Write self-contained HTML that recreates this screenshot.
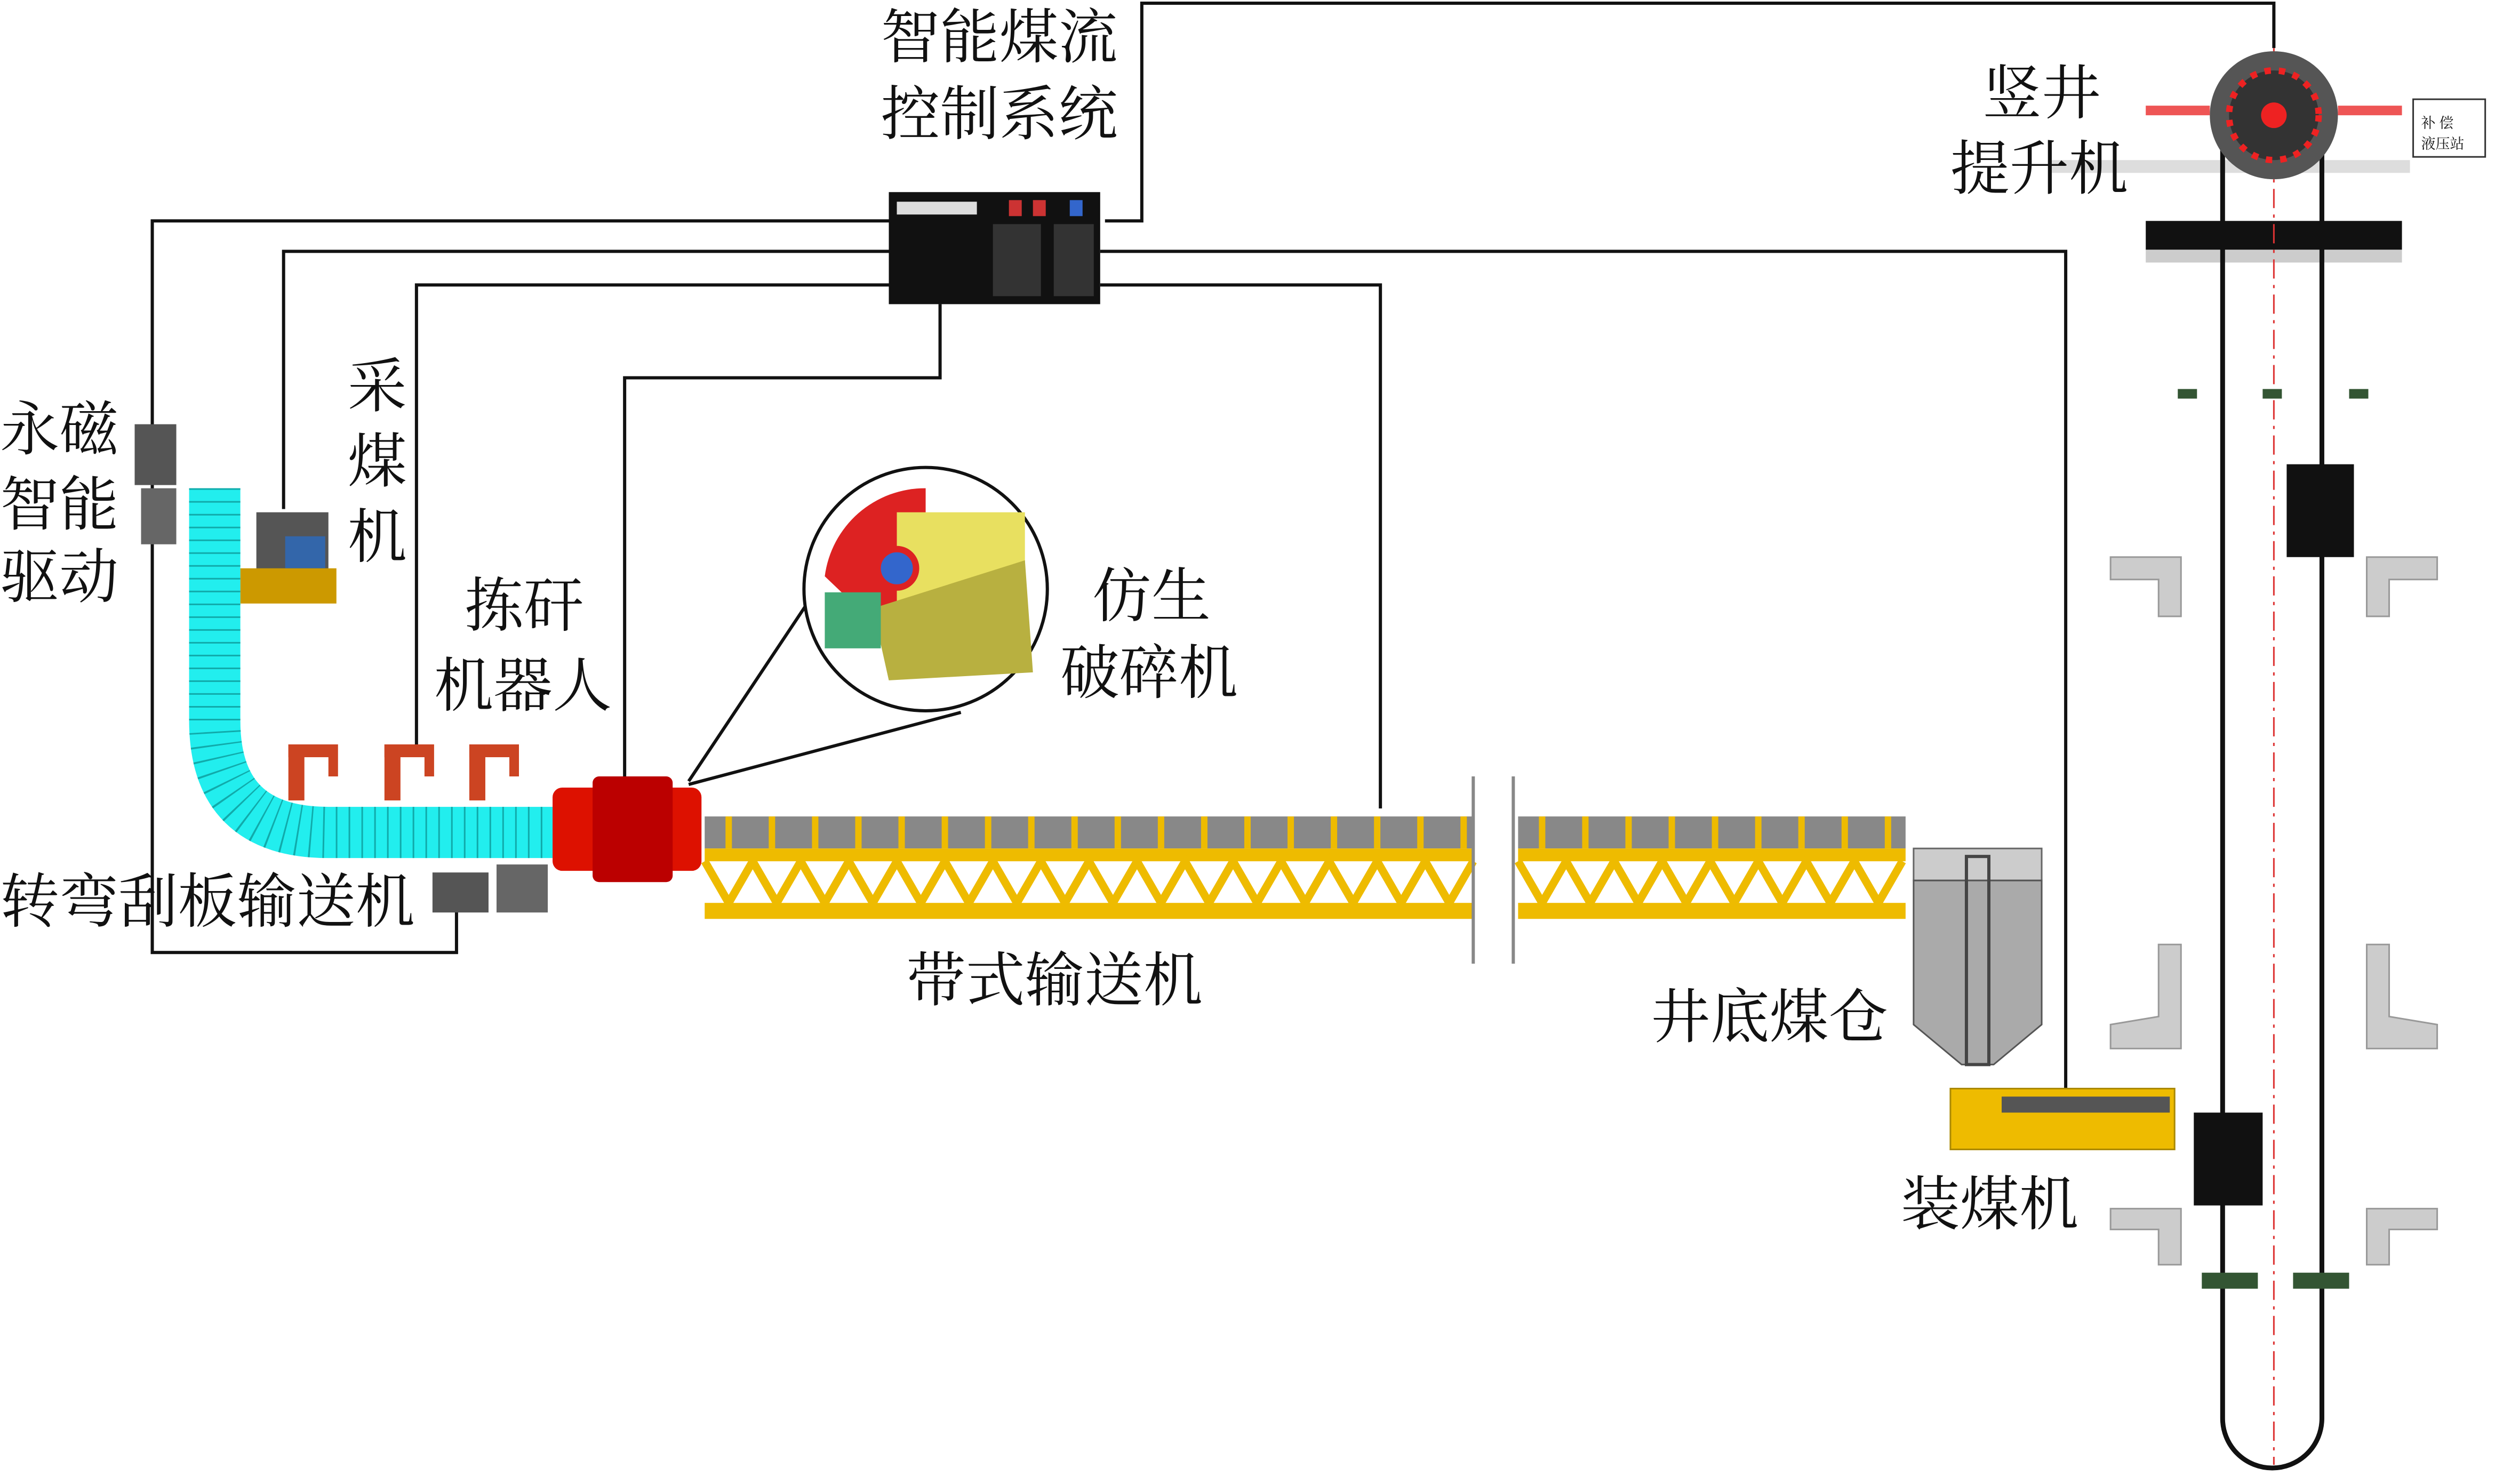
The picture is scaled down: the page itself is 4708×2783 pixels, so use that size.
<!DOCTYPE html>
<html><head><meta charset="utf-8"><style>
html,body{margin:0;padding:0;background:#fff}
svg{display:block}
text{font-family:"Liberation Serif","Noto Serif CJK SC","Noto Sans CJK SC",serif;font-size:37px;fill:#111}
</style></head><body>
<svg width="4708" height="2783" viewBox="0 0 1568 927" xmlns="http://www.w3.org/2000/svg">
<rect width="1568" height="927" fill="#fff"/>
<g fill="none" stroke="#111" stroke-width="2">
<polyline points="690,138 713,138 713,2 1420,2 1420,30"/>
<polyline points="555,138 95,138 95,595 285,595 285,565"/>
<polyline points="555,157 177,157 177,318"/>
<polyline points="555,178 260,178 260,465"/>
<polyline points="587,190 587,236 390,236 390,485"/>
<polyline points="687,178 862,178 862,505"/>
<polyline points="687,157 1290,157 1290,685"/>
<line x1="430" y1="488" x2="512" y2="365"/>
<line x1="430" y1="490" x2="600" y2="445"/>
</g>
<rect x="555" y="120" width="132" height="70" fill="#111"/>
<rect x="560" y="126" width="50" height="8" fill="#ddd"/>
<rect x="620" y="140" width="30" height="45" fill="#333"/>
<rect x="658" y="140" width="25" height="45" fill="#333"/>
<rect x="630" y="125" width="8" height="10" fill="#c33"/><rect x="645" y="125" width="8" height="10" fill="#c33"/><rect x="668" y="125" width="8" height="10" fill="#36c"/>
<circle cx="578" cy="368" r="76" fill="#fff" stroke="#111" stroke-width="2"/>
<path d="M515,360 A63,63 0 0 1 578,305 L578,420 Z" fill="#d22"/>
<rect x="560" y="320" width="80" height="100" fill="#e8e060"/>
<circle cx="560" cy="355" r="12" fill="#36c" stroke="#d22" stroke-width="4"/>
<polygon points="545,380 640,350 645,420 555,425" fill="#b8b040"/>
<rect x="515" y="370" width="35" height="35" fill="#4a7"/>
<rect x="84" y="265" width="26" height="38" fill="#555"/>
<rect x="88" y="305" width="22" height="35" fill="#666"/>
<rect x="160" y="320" width="45" height="45" fill="#555"/>
<rect x="178" y="335" width="25" height="20" fill="#36a"/>
<rect x="150" y="355" width="60" height="22" fill="#c90"/>
<path d="M134,305 L134,450 Q134,520 205,520 L345,520" fill="none" stroke="#2ee" stroke-width="32"/>
<path d="M134,305 L134,450 Q134,520 205,520 L345,520" fill="none" stroke="#1aa" stroke-width="32" stroke-dasharray="1 7"/>
<rect x="270" y="545" width="35" height="25" fill="#555"/>
<rect x="310" y="540" width="32" height="30" fill="#666"/>
<g fill="#c42">
<rect x="180" y="465" width="10" height="35"/><rect x="180" y="465" width="30" height="8"/><rect x="205" y="465" width="6" height="20"/>
<rect x="240" y="465" width="10" height="35"/><rect x="240" y="465" width="30" height="8"/><rect x="265" y="465" width="6" height="20"/>
<rect x="293" y="465" width="10" height="35"/><rect x="293" y="465" width="30" height="8"/><rect x="318" y="465" width="6" height="20"/>
</g>
<rect x="345" y="492" width="93" height="52" fill="#d10" rx="6"/>
<rect x="370" y="485" width="50" height="66" fill="#b00" rx="4"/>
<g>
<rect x="440" y="510" width="480" height="20" fill="#888"/>
<rect x="948" y="510" width="242" height="20" fill="#888"/>
<path d="M455,510 v20 M482,510 v20 M509,510 v20 M536,510 v20 M563,510 v20 M590,510 v20 M617,510 v20 M644,510 v20 M671,510 v20 M698,510 v20 M725,510 v20 M752,510 v20 M779,510 v20 M806,510 v20 M833,510 v20 M860,510 v20 M887,510 v20 M914,510 v20 M963,510 v20 M990,510 v20 M1017,510 v20 M1044,510 v20 M1071,510 v20 M1098,510 v20 M1125,510 v20 M1152,510 v20 M1179,510 v20" stroke="#eb0" stroke-width="4"/>
<rect x="440" y="530" width="480" height="8" fill="#eb0"/>
<rect x="948" y="530" width="242" height="8" fill="#eb0"/>
<rect x="440" y="564" width="480" height="10" fill="#eb0"/>
<rect x="948" y="564" width="242" height="10" fill="#eb0"/>
<path d="M440,538 L455,564 L470,538 L485,564 L500,538 L515,564 L530,538 L545,564 L560,538 L575,564 L590,538 L605,564 L620,538 L635,564 L650,538 L665,564 L680,538 L695,564 L710,538 L725,564 L740,538 L755,564 L770,538 L785,564 L800,538 L815,564 L830,538 L845,564 L860,538 L875,564 L890,538 L905,564 L920,538" fill="none" stroke="#eb0" stroke-width="5"/>
<path d="M948,538 L963,564 L978,538 L993,564 L1008,538 L1023,564 L1038,538 L1053,564 L1068,538 L1083,564 L1098,538 L1113,564 L1128,538 L1143,564 L1158,538 L1173,564 L1188,538" fill="none" stroke="#eb0" stroke-width="5"/>
<line x1="920" y1="485" x2="920" y2="602" stroke="#888" stroke-width="2"/>
<line x1="945" y1="485" x2="945" y2="602" stroke="#888" stroke-width="2"/>
</g>
<rect x="1195" y="530" width="80" height="20" fill="#ccc" stroke="#666"/>
<path d="M1195,550 L1275,550 L1275,640 L1245,665 L1225,665 L1195,640 Z" fill="#aaa" stroke="#555"/>
<rect x="1228" y="535" width="14" height="130" fill="none" stroke="#444" stroke-width="2"/>
<rect x="1218" y="680" width="140" height="38" fill="#eb0" stroke="#a80"/>
<rect x="1250" y="685" width="105" height="10" fill="#555"/>
<rect x="1280" y="100" width="225" height="8" fill="#ddd"/>
<rect x="1340" y="138" width="160" height="18" fill="#111"/>
<rect x="1340" y="156" width="160" height="8" fill="#ccc"/>
<rect x="1388" y="62" width="62" height="855" rx="31" fill="none" stroke="#111" stroke-width="3"/>
<line x1="1420" y1="30" x2="1420" y2="915" stroke="#d33" stroke-width="1" stroke-dasharray="12 4 2 4"/>
<circle cx="1420" cy="72" r="40" fill="#555"/>
<circle cx="1420" cy="72" r="28" fill="#333" stroke="#e22" stroke-width="4" stroke-dasharray="4 5"/>
<circle cx="1420" cy="72" r="8" fill="#e22"/>
<rect x="1340" y="66" width="40" height="6" fill="#e55"/><rect x="1460" y="66" width="40" height="6" fill="#e55"/>
<rect x="1507" y="62" width="45" height="36" fill="#fff" stroke="#333"/>
<text x="1512" y="80" style="font-size:9px">补 偿</text><text x="1512" y="93" style="font-size:9px">液压站</text>
<rect x="1428" y="290" width="42" height="58" fill="#111"/>
<rect x="1370" y="695" width="43" height="58" fill="#111"/>
<rect x="1360" y="243" width="12" height="6" fill="#353"/><rect x="1413" y="243" width="12" height="6" fill="#353"/><rect x="1467" y="243" width="12" height="6" fill="#353"/>
<rect x="1375" y="795" width="35" height="10" fill="#353"/><rect x="1432" y="795" width="35" height="10" fill="#353"/>
<g fill="#ccc" stroke="#999">
<path d="M1318,348 L1362,348 L1362,385 L1348,385 L1348,362 L1318,362 Z"/>
<path d="M1522,348 L1478,348 L1478,385 L1492,385 L1492,362 L1522,362 Z"/>
<path d="M1348,590 L1362,590 L1362,655 L1318,655 L1318,640 L1348,635 Z"/>
<path d="M1492,590 L1478,590 L1478,655 L1522,655 L1522,640 L1492,635 Z"/>
<path d="M1318,755 L1362,755 L1362,790 L1348,790 L1348,768 L1318,768 Z"/>
<path d="M1522,755 L1478,755 L1478,790 L1492,790 L1492,768 L1522,768 Z"/>
</g>
<text x="550" y="36">智能煤流</text>
<text x="550" y="84">控制系统</text>
<text x="1238" y="71">竖井</text>
<text x="1218" y="118">提升机</text>
<text x="0" y="281">永磁</text>
<text x="0" y="328">智能</text>
<text x="0" y="373">驱动</text>
<text x="217" y="254">采</text>
<text x="217" y="301">煤</text>
<text x="217" y="348">机</text>
<text x="290" y="391">拣矸</text>
<text x="271" y="441">机器人</text>
<text x="682" y="385">仿生</text>
<text x="662" y="433">破碎机</text>
<text x="0" y="576">转弯刮板输送机</text>
<text x="566" y="625">带式输送机</text>
<text x="1031" y="648">井底煤仓</text>
<text x="1187" y="765">装煤机</text>
</svg>
</body></html>
